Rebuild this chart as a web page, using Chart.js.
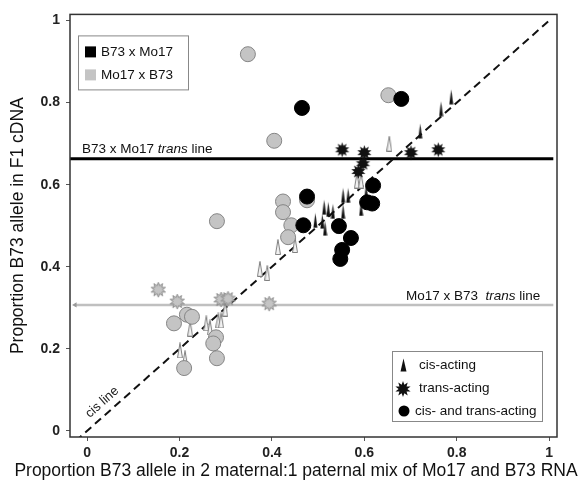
<!DOCTYPE html>
<html>
<head>
<meta charset="utf-8">
<script src="https://cdn.jsdelivr.net/npm/chart.js@4.4.0/dist/chart.umd.min.js"></script>
<style>
  html, body { margin: 0; padding: 0; background: #fff; }
</style>
</head>
<body>
<canvas id="myChart" width="586" height="485"></canvas>
<script>
// tick labels
const xTicks = [0, 0.2, 0.4, 0.6, 0.8, 1];
const yTicks = [0, 0.2, 0.4, 0.6, 0.8, 1];

// reference lines
const cisLineX = [-0.025, 1.0];
const b73TransLevel = 0.663;
const mo17TransLevel = 0.307;
const b73TransX = [-0.037, 1.009];
const mo17TransX = [-0.026, 1.009];

// B73 x Mo17 (black)
const b73Circles = [
    [0.465, 0.787], [0.680, 0.809], [0.476, 0.571], [0.468, 0.501],
    [0.545, 0.499], [0.571, 0.470], [0.552, 0.441], [0.548, 0.419],
    [0.619, 0.598], [0.606, 0.557], [0.617, 0.554],
];
const b73Stars = [
    [0.552, 0.685], [0.600, 0.678], [0.597, 0.651], [0.587, 0.632],
    [0.701, 0.678], [0.760, 0.685],
];
const b73Spikes = [
    [0.788, 0.814], [0.766, 0.785], [0.721, 0.731], [0.554, 0.574],
    [0.565, 0.574], [0.513, 0.545], [0.522, 0.540], [0.532, 0.535],
    [0.554, 0.535], [0.494, 0.513], [0.509, 0.511], [0.515, 0.494],
    [0.593, 0.542], [0.604, 0.584],
];

// Mo17 x B73 (gray)
const mo17Circles = [
    [0.348, 0.918], [0.652, 0.818], [0.405, 0.707], [0.281, 0.511],
    [0.424, 0.559], [0.424, 0.533], [0.442, 0.501], [0.435, 0.472],
    [0.476, 0.562], [0.188, 0.262], [0.216, 0.283], [0.227, 0.278],
    [0.210, 0.153], [0.279, 0.228], [0.273, 0.213], [0.281, 0.177],
];
const mo17Stars = [
    [0.154, 0.344], [0.195, 0.315], [0.290, 0.320], [0.305, 0.322],
    [0.394, 0.310],
];
const mo17Spikes = [
    [0.654, 0.700], [0.584, 0.610], [0.593, 0.610], [0.413, 0.448],
    [0.450, 0.453], [0.374, 0.395], [0.390, 0.385], [0.299, 0.298],
    [0.284, 0.269], [0.290, 0.269], [0.258, 0.262], [0.266, 0.252],
    [0.223, 0.249], [0.201, 0.196], [0.212, 0.177],
];

const FONT = "'Liberation Sans', Arial, sans-serif";

function toPoints(arr) {
    return arr.map((p) => ({ x: p[0], y: p[1] }));
}

// marker images
function makeSpike(fill, stroke, w, h) {
    const c = document.createElement("canvas");
    c.width = w;
    c.height = h;
    const g = c.getContext("2d");
    g.beginPath();
    g.moveTo(w / 2, 0.5);
    g.lineTo(w - 0.5, h - 0.5);
    g.lineTo(0.5, h - 0.5);
    g.closePath();
    g.fillStyle = fill;
    g.fill();
    if (stroke) {
        g.strokeStyle = stroke;
        g.lineWidth = 1;
        g.stroke();
    }
    return c;
}

function makeStar(fill, stroke, r) {
    const s = Math.ceil(r * 2 + 2);
    const c = document.createElement("canvas");
    c.width = s;
    c.height = s;
    const g = c.getContext("2d");
    const n = 10;
    g.beginPath();
    for (let i = 0; i < n * 2; i++) {
        const rr = i % 2 ? r * 0.55 : r;
        const a = (Math.PI * i) / n - Math.PI / 2;
        const px = s / 2 + rr * Math.cos(a);
        const py = s / 2 + rr * Math.sin(a);
        if (i === 0) g.moveTo(px, py);
        else g.lineTo(px, py);
    }
    g.closePath();
    g.fillStyle = fill;
    g.fill();
    if (stroke) {
        g.strokeStyle = stroke;
        g.lineWidth = 1;
        g.stroke();
    }
    return c;
}

const blackSpike = makeSpike("#111", null, 5, 16);
const graySpike = makeSpike("#f2f2f2", "#808080", 6, 16);
const blackStar = makeStar("#111", null, 7.5);
const grayStar = makeStar("#c4c4c4", "#8a8a8a", 7.5);
const legendSpike = makeSpike("#111", null, 7, 14);
const legendStar = makeStar("#111", null, 8);

// frame, legends and line labels
const decorations = {
    id: "decorations",
    afterDatasetsDraw(chart) {
        const ctx = chart.ctx;
        const a = chart.chartArea;
        const xs = chart.scales.x;
        const ys = chart.scales.y;
        ctx.save();

        // plot frame
        ctx.strokeStyle = "#333";
        ctx.lineWidth = 1.5;
        ctx.strokeRect(a.left, a.top, a.right - a.left, a.bottom - a.top);

        // top-left legend
        ctx.fillStyle = "#fff";
        ctx.fillRect(a.left + 8, a.top + 21, 110, 54);
        ctx.strokeStyle = "#888";
        ctx.lineWidth = 1;
        ctx.strokeRect(a.left + 8.5, a.top + 21.5, 110, 54);
        ctx.fillStyle = "#000";
        ctx.fillRect(a.left + 15, a.top + 32, 11, 11);
        ctx.fillStyle = "#c4c4c4";
        ctx.fillRect(a.left + 15, a.top + 55, 11, 11);
        ctx.fillStyle = "#111";
        ctx.font = "13.5px " + FONT;
        ctx.textBaseline = "middle";
        ctx.textAlign = "left";
        ctx.fillText("B73 x Mo17", a.left + 31, a.top + 38);
        ctx.fillText("Mo17 x B73", a.left + 31, a.top + 61);

        // bottom-right legend
        const lx = 392, ly = 351;
        ctx.fillStyle = "#fff";
        ctx.fillRect(lx, ly, 150, 70);
        ctx.strokeStyle = "#888";
        ctx.strokeRect(lx + 0.5, ly + 0.5, 150, 70);
        ctx.drawImage(legendSpike, lx + 8, ly + 7);
        ctx.drawImage(legendStar, lx + 2, ly + 29);
        ctx.fillStyle = "#000";
        ctx.beginPath();
        ctx.arc(lx + 12, ly + 60, 5.5, 0, Math.PI * 2);
        ctx.fill();
        ctx.fillStyle = "#111";
        ctx.fillText("cis-acting", lx + 27, ly + 14);
        ctx.fillText("trans-acting", lx + 27, ly + 37);
        ctx.fillText("cis- and trans-acting", lx + 23, ly + 60);

        // trans line labels with italic "trans"
        function labelLine(parts, x, y) {
            let cx = x;
            parts.forEach((p) => {
                ctx.font = (p.italic ? "italic " : "") + "13.5px " + FONT;
                ctx.fillText(p.t, cx, y);
                cx += ctx.measureText(p.t).width;
            });
        }
        const yB = ys.getPixelForValue(b73TransLevel);
        labelLine(
            [{ t: "B73 x Mo17 " }, { t: "trans", italic: true }, { t: " line" }],
            a.left + 12,
            yB - 10,
        );
        const yM = ys.getPixelForValue(mo17TransLevel);
        labelLine(
            [{ t: "Mo17 x B73  " }, { t: "trans", italic: true }, { t: " line" }],
            xs.getPixelForValue(0.69),
            yM - 9,
        );

        // cis line label
        const p0x = xs.getPixelForValue(0.05), p0y = ys.getPixelForValue(0.05);
        const p1x = xs.getPixelForValue(0.15), p1y = ys.getPixelForValue(0.15);
        const ang = Math.atan2(p1y - p0y, p1x - p0x);
        ctx.translate(p0x - 8, p0y - 8);
        ctx.rotate(ang);
        ctx.font = "13px " + FONT;
        ctx.textAlign = "center";
        ctx.fillStyle = "#222";
        ctx.fillText("cis line", 0, 0);
        ctx.restore();
    },
};

const tickFont = { family: FONT, size: 14, weight: "bold" };
const titleFont = { family: FONT, size: 17.5, weight: "normal" };

new Chart(document.getElementById("myChart"), {
    type: "scatter",
    data: {
        datasets: [
            {
                data: toPoints(b73Circles),
                pointStyle: "circle",
                pointRadius: 7.5,
                backgroundColor: "#000",
                borderColor: "#000",
                borderWidth: 1,
                order: 1,
            },
            {
                data: toPoints(b73Stars),
                pointStyle: blackStar,
                pointRadius: 5,
                order: 2,
            },
            {
                data: toPoints(b73Spikes),
                pointStyle: blackSpike,
                pointRadius: 5,
                order: 3,
            },
            {
                data: toPoints(mo17Circles),
                pointStyle: "circle",
                pointRadius: 7.5,
                backgroundColor: "#c4c4c4",
                borderColor: "#858585",
                borderWidth: 1,
                order: 4,
            },
            {
                data: toPoints(mo17Stars),
                pointStyle: grayStar,
                pointRadius: 5,
                order: 5,
            },
            {
                data: toPoints(mo17Spikes),
                pointStyle: graySpike,
                pointRadius: 5,
                order: 6,
            },
            {
                // cis line
                data: cisLineX.map((v) => ({ x: v, y: v })),
                showLine: true,
                borderColor: "#111",
                borderWidth: 2,
                borderDash: [8, 5],
                pointRadius: 0,
                order: 7,
            },
            {
                data: b73TransX.map((v) => ({ x: v, y: b73TransLevel })),
                showLine: true,
                borderColor: "#000",
                borderWidth: 3,
                pointRadius: 0,
                order: 8,
            },
            {
                data: mo17TransX.map((v) => ({ x: v, y: mo17TransLevel })),
                showLine: true,
                borderColor: "#c0c0c0",
                backgroundColor: "#999",
                borderWidth: 2.5,
                pointStyle: "triangle",
                pointRotation: -90,
                pointRadius: [3, 0],
                pointBorderWidth: 0,
                order: 9,
            },
        ],
    },
    options: {
        responsive: false,
        animation: false,
        layout: { padding: { top: 12, right: 29, left: 0, bottom: 0 } },
        scales: {
            x: {
                type: "linear",
                min: -0.037,
                max: 1.017,
                afterBuildTicks: (s) => {
                    s.ticks = xTicks.map((v) => ({ value: v }));
                },
                afterFit: (s) => {
                    s.height = 48;
                },
                ticks: {
                    font: tickFont,
                    color: "#222",
                    padding: 4,
                    maxRotation: 0,
                    callback: (v) => String(v),
                },
                grid: {
                    drawOnChartArea: false,
                    drawTicks: true,
                    tickLength: 4,
                    color: "#555",
                },
                border: { display: false },
                title: {
                    display: false,
                },
            },
            y: {
                type: "linear",
                min: -0.015,
                max: 1.015,
                afterBuildTicks: (s) => {
                    s.ticks = yTicks.map((v) => ({ value: v }));
                },
                afterFit: (s) => {
                    s.width = 70;
                },
                ticks: {
                    font: tickFont,
                    color: "#222",
                    padding: 6,
                    callback: (v) => String(v),
                },
                grid: {
                    drawOnChartArea: false,
                    drawTicks: true,
                    tickLength: 4,
                    color: "#555",
                },
                border: { display: false },
                title: {
                    display: true,
                    text: "Proportion B73 allele in F1 cDNA",
                    font: titleFont,
                    color: "#111",
                    padding: { top: 8, bottom: 0 },
                },
            },
        },
        plugins: {
            legend: { display: false },
            tooltip: { enabled: false },
        },
    },
    plugins: [
        decorations,
        {
            id: "xTitle",
            afterDraw(chart) {
                const ctx = chart.ctx;
                ctx.save();
                ctx.font = "17.5px " + FONT;
                ctx.fillStyle = "#111";
                ctx.textAlign = "center";
                ctx.textBaseline = "middle";
                ctx.fillText(
                    "Proportion B73 allele in 2 maternal:1 paternal mix of Mo17 and B73 RNA",
                    296,
                    471,
                );
                ctx.restore();
            },
        },
    ],
});
</script>
</body>
</html>
